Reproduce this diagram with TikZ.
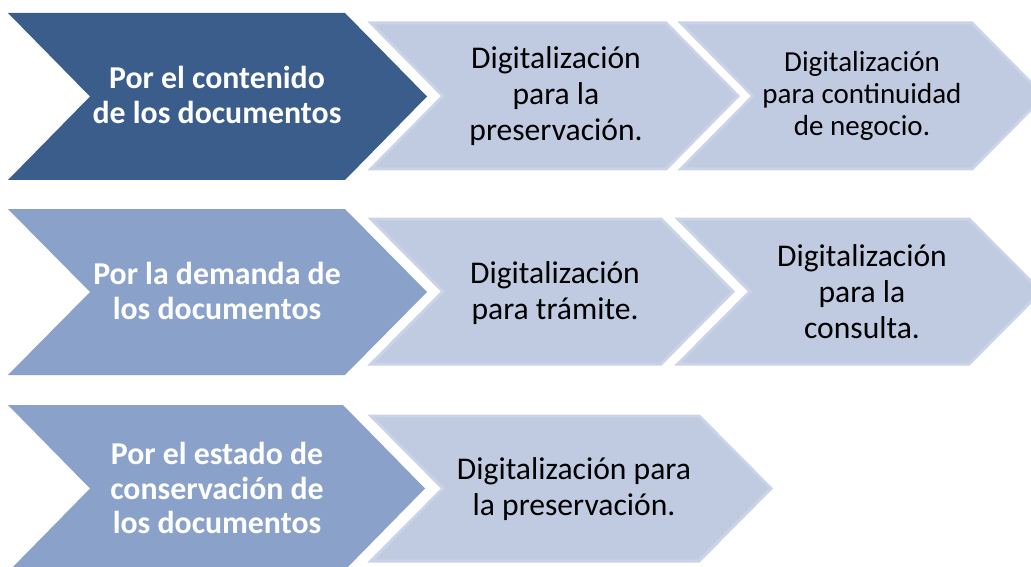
\documentclass[tikz,border=0pt]{standalone}
\usepackage{fontspec}
\setmainfont{Carlito}
\usetikzlibrary{positioning}
\definecolor{darkchev}{HTML}{3A5D8C}
\definecolor{midchev}{HTML}{8AA2CA}
\definecolor{lightfill}{HTML}{C0CBE1}
\definecolor{lightedge}{HTML}{CAD3E7}
\tikzset{
  darkbox/.style={fill=darkchev},
  midbox/.style={fill=midchev},
  lightbox/.style={fill=lightfill,draw=lightedge,line width=3pt,line join=miter},
  head/.style={text=white,inner sep=0pt,align=center,font=\bfseries\fontsize{31.8}{34.5}\selectfont},
  item/.style={text=black,inner sep=0pt,align=center,font=\fontsize{31.6}{36}\selectfont},
  itemsmall/.style={item,font=\fontsize{29}{32}\selectfont}
}
% chevron: style, left x, top y, right x (top corner), bottom y, depth
\newcommand{\chevron}[6]{%
  \path[#1] (#2,#3) -- (#4,#3) -- ({#4+#6},{(#3+#5)/2}) -- (#4,#5) -- (#2,#5)
    -- ({#2+#6},{(#3+#5)/2}) -- cycle;}
\begin{document}
\begin{tikzpicture}[x=1pt,y=-1pt]
\clip (0,0) rectangle (1031,567);
\fill[white] (0,0) rectangle (1031,567);
% --- row 1: contenido
\chevron{darkbox}{8}{13}{345}{180}{82}
\chevron{lightbox}{371}{23}{666}{169}{72}
\chevron{lightbox}{681}{23}{972}{169}{72}
\node[head] (cont) at (217,95) {Por el contenido\\de los documentos};
\node[item] (pres) at (556,96) {Digitalización\\para la\\preservación.};
\node[itemsmall] (cont2) at (862,96) {Digitalización\\para continuidad\\de negocio.};
% --- row 2: demanda
\chevron{midbox}{8}{209}{345}{375}{82}
\chevron{lightbox}{371}{219}{661}{364}{72}
\chevron{lightbox}{678}{219}{969}{364}{72}
\node[head] (dem) at (217,291) {Por la demanda de\\los documentos};
\node[item] (tram) at (555,293) {Digitalización\\para trámite.};
\node[item] (cons) at (862,292) {Digitalización\\para la\\consulta.};
% --- row 3: estado de conservacion
\chevron{midbox}{8}{405}{343}{572}{82}
\chevron{lightbox}{371}{416}{699}{561}{72}
\node[head] (est) at (217,488) {Por el estado de\\conservación de\\los documentos};
\node[item] (pres3) at (574,489) {Digitalización para\\la preservación.};
\end{tikzpicture}
\end{document}
